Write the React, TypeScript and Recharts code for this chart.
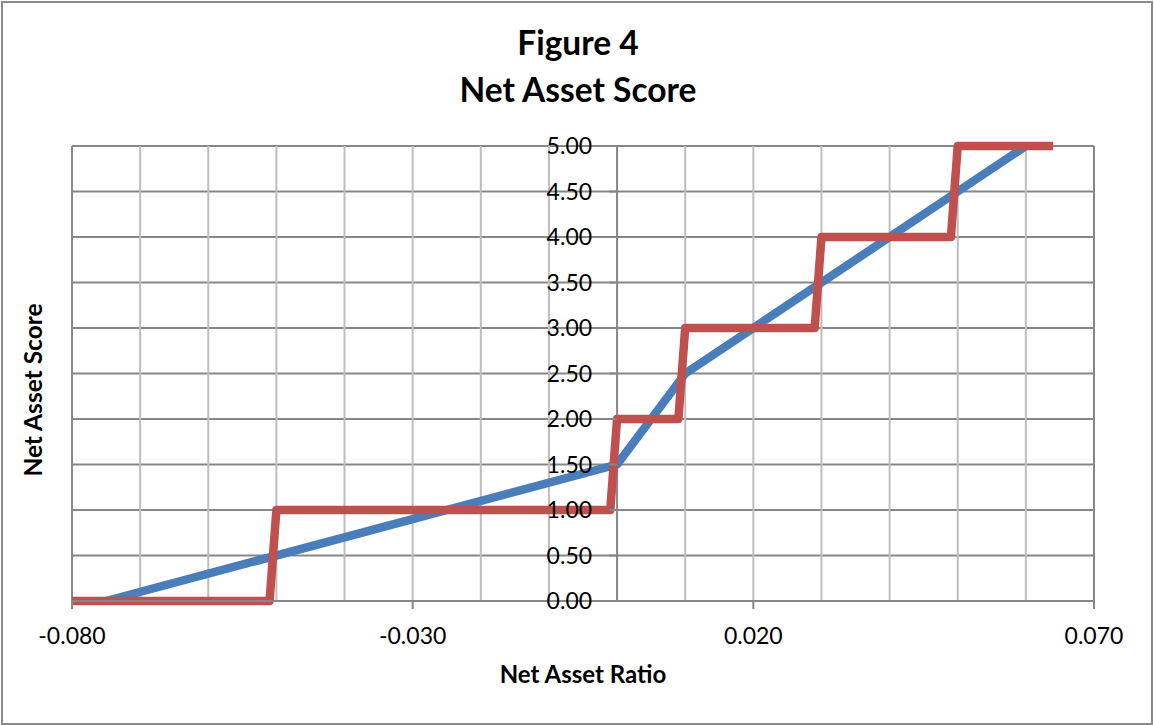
import React from 'react';
import { LineChart, Line, XAxis, YAxis, CartesianGrid, ReferenceDot } from 'recharts';

// Axis ticks and gridlines
const xTicks = [-0.08, -0.03, 0.02, 0.07];
const xMinorGrid = [-0.07, -0.06, -0.05, -0.04, -0.03, -0.02, -0.01, 0.01, 0.02, 0.03, 0.04, 0.05, 0.06];
const xEdgeLines = [-0.08, 0, 0.07];
const yTicks = [0, 0.5, 1, 1.5, 2, 2.5, 3, 3.5, 4, 4.5, 5];
const yTickLabels = ['0.00', '0.50', '1.00', '1.50', '2.00', '2.50', '3.00', '3.50', '4.00', '4.50', '5.00'];

// Blue series (linear score)
const blueX = [-0.075, 0, 0.01, 0.06];
const blueY = [0, 1.5, 2.5, 5];

// Red series (step score)
const redX = [-0.08, -0.051, -0.05, -0.001, 0, 0.009, 0.01, 0.029, 0.03, 0.049, 0.05, 0.064];
const redY = [0, 0, 1, 1, 2, 2, 3, 3, 4, 4, 5, 5];

const blueData = blueX.map((x, i) => ({ x, y: blueY[i] }));
const redData = redX.map((x, i) => ({ x, y: redY[i] }));

const FONT = 'Lato, "Open Sans", sans-serif';
const DARK = '#878787';
const LIGHT = '#bebebe';

const makeTick = (label: string) => (p: any) => (
  <g>
    <line x1={p.cx - 8} x2={p.cx} y1={p.cy} y2={p.cy} stroke={DARK} strokeWidth={2} />
    <text x={p.cx - 25} y={p.cy} dy="0.36em" textAnchor="end" fontFamily={FONT} fontSize={23} fill="#000">
      {label}
    </text>
  </g>
);

export default function App() {
  return (
    <div style={{ position: 'absolute', left: 0, top: 0, width: 1154, height: 725, background: '#fff' }}>
      <div
        style={{
          position: 'absolute',
          left: 1,
          top: 1,
          width: 1148,
          height: 720,
          border: '2px solid #8a8a8a',
        }}
      />
      <LineChart width={1154} height={725} margin={{ top: 146, right: 60, bottom: 94, left: 72 }}>
        <CartesianGrid vertical={false} horizontalValues={yTicks} stroke={DARK} strokeWidth={2} />
        <CartesianGrid horizontal={false} verticalValues={xMinorGrid} stroke={LIGHT} strokeWidth={2} />
        <CartesianGrid horizontal={false} verticalValues={xEdgeLines} stroke={DARK} strokeWidth={2} />
        <XAxis
          type="number"
          dataKey="x"
          domain={[-0.08, 0.07]}
          ticks={xTicks}
          interval={0}
          allowDataOverflow
          tickFormatter={(v: number) => v.toFixed(3)}
          tick={{ fill: '#000', fontSize: 23, fontFamily: FONT }}
          tickLine={{ stroke: DARK, strokeWidth: 2 }}
          tickSize={8}
          tickMargin={19}
          axisLine={{ stroke: DARK, strokeWidth: 2 }}
        />
        <YAxis type="number" dataKey="y" domain={[0, 5]} ticks={yTicks} hide />
        <Line
          data={blueData}
          dataKey="y"
          type="linear"
          stroke="#4a7ebb"
          strokeWidth={8.5}
          strokeLinejoin="round"
          dot={false}
          activeDot={false}
          isAnimationActive={false}
        />
        <Line
          data={redData}
          dataKey="y"
          type="linear"
          stroke="#c0504d"
          strokeWidth={8.5}
          strokeLinejoin="round"
          dot={false}
          activeDot={false}
          isAnimationActive={false}
        />
        {yTicks.map((v, i) => (
          <ReferenceDot key={v} x={0} y={v} r={4} ifOverflow="visible" shape={makeTick(yTickLabels[i])} />
        ))}
      </LineChart>
      <svg
        width={1154}
        height={725}
        style={{ position: 'absolute', left: 0, top: 0, pointerEvents: 'none' }}
      >
        <text x={578} y={55} textAnchor="middle" fontFamily={FONT} fontWeight="bold" fontSize={33.5} fill="#000">
          Figure 4
        </text>
        <text x={578} y={101.5} textAnchor="middle" fontFamily={FONT} fontWeight="bold" fontSize={33.5} fill="#000">
          Net Asset Score
        </text>
        <text x={583} y={683} textAnchor="middle" fontFamily={FONT} fontWeight="bold" fontSize={24} fill="#000">
          Net Asset Ratio
        </text>
        <text
          x={0}
          y={0}
          transform="translate(42,390) rotate(-90)"
          textAnchor="middle"
          fontFamily={FONT}
          fontWeight="bold"
          fontSize={24.5}
          fill="#000"
        >
          Net Asset Score
        </text>
      </svg>
    </div>
  );
}
